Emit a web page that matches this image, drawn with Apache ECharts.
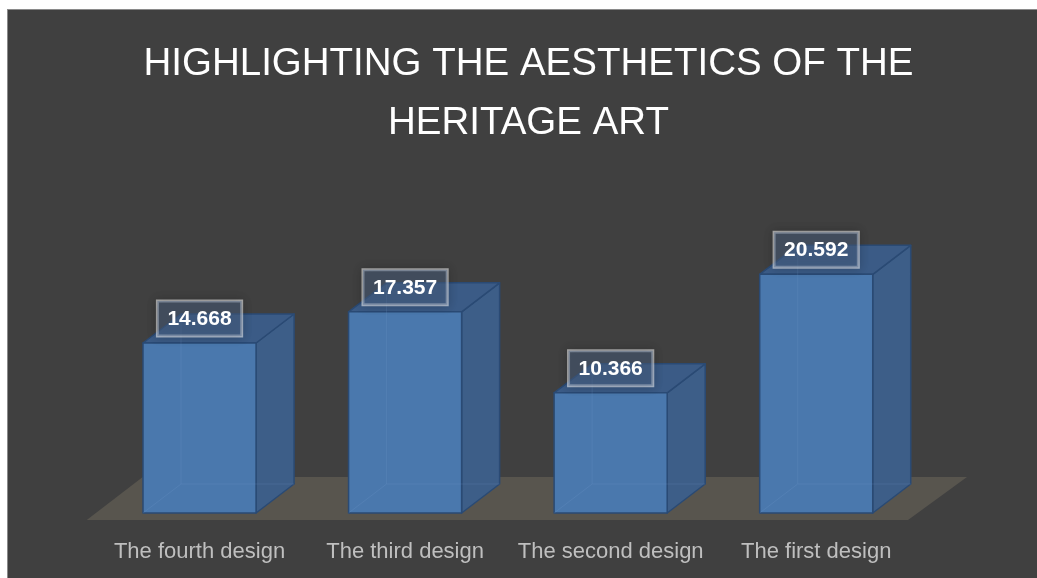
<!DOCTYPE html>
<html>
<head>
<meta charset="utf-8">
<script src="https://cdn.jsdelivr.net/npm/echarts@6/dist/echarts.min.js"></script>
<style>
  html, body { margin: 0; padding: 0; background: #ffffff; width: 1037px; height: 578px; overflow: hidden; }
  #frame { position: absolute; left: 7px; top: 9px; width: 1030px; height: 569px; border-left: 1px solid #8a8a8a; border-top: 1px solid #8a8a8a; background: #404040; }
  #chart { position: absolute; left: 0; top: 0; width: 1029px; height: 568px; }
</style>
</head>
<body>
<div id="frame"><div id="chart"></div></div>
<script>
const titleText = 'HIGHLIGHTING THE AESTHETICS OF THE\nHERITAGE ART';
const categories = ['The fourth design', 'The third design', 'The second design', 'The first design'];
const values = [14.668, 17.357, 10.366, 20.592];

const DX = 38, DY = 29;          // 3D depth offset (px)
const BAR_RATIO = 0.55;

const chart = echarts.init(document.getElementById('chart'), null, { renderer: 'canvas' });

function renderBar(params, api) {
  const idx = api.value(0);
  const val = api.value(1);
  const base = api.coord([idx, 0]);
  const top = api.coord([idx, val]);
  const bw = api.size([1, 0])[0] * BAR_RATIO;
  const x0 = base[0] - bw / 2, x1 = base[0] + bw / 2;
  const yb = base[1], yt = top[1];
  const edge = { stroke: '#2a4a74', lineWidth: 1.5, lineJoin: 'round' };
  return {
    type: 'group',
    children: [
      { type: 'polygon', shape: { points: [[x1, yt], [x1 + DX, yt - DY], [x1 + DX, yb - DY], [x1, yb]] },
        style: Object.assign({ fill: '#3d5e88' }, edge) },
      { type: 'polygon', shape: { points: [[x0, yt], [x0 + DX, yt - DY], [x1 + DX, yt - DY], [x1, yt]] },
        style: Object.assign({ fill: '#3b5b86' }, edge) },
      { type: 'rect', shape: { x: x0, y: yt, width: bw, height: yb - yt },
        style: Object.assign({ fill: '#4a78ad' }, edge) },
      { type: 'polyline', shape: { points: [[x0 + DX, yt - DY + 2], [x0 + DX, yb - DY], [x1 + DX, yb - DY]] },
        style: { stroke: 'rgba(120,160,210,0.18)', lineWidth: 1, fill: null } },
      { type: 'line', shape: { x1: x0, y1: yb, x2: x0 + DX, y2: yb - DY },
        style: { stroke: 'rgba(120,160,210,0.18)', lineWidth: 1 } },
      { type: 'text', z2: 10,
        style: {
          text: String(val), x: base[0], y: yt - 7, align: 'center', verticalAlign: 'bottom',
          font: 'bold 21px "Liberation Sans", Arial, sans-serif', fill: '#ffffff', lineHeight: 24,
          backgroundColor: 'rgba(80,105,140,0.45)', borderColor: 'rgba(255,255,255,0.55)', borderWidth: 1.5,
          padding: [6, 10, 5, 10],
          shadowColor: 'rgba(0,0,0,0.35)', shadowBlur: 10
        } }
    ]
  };
}

function renderFloor(params, api) {
  const left = api.coord([0, 0]);
  const right = api.coord([categories.length - 1, 0]);
  const half = api.size([1, 0])[0] / 2;
  const xl = left[0] - half, xr = right[0] + half, y0 = left[1];
  return {
    type: 'polygon',
    shape: { points: [[xl - 10, y0 + 7], [xr - 11, y0 + 7], [xr + 48, y0 - 36], [xl + 46, y0 - 36]] },
    style: { fill: '#58554e' }
  };
}

chart.setOption({
  backgroundColor: '#404040',
  animation: false,
  title: {
    text: titleText,
    left: 515.5,
    textAlign: 'center',
    top: 20,
    textStyle: { color: '#ffffff', fontSize: 38.5, fontWeight: 'normal', fontFamily: '"Liberation Sans", Arial, sans-serif', lineHeight: 59, align: 'center' }
  },
  grid: { left: 88.75, right: 118, top: 213.25, bottom: 65 },
  xAxis: {
    type: 'category',
    data: categories,
    boundaryGap: true,
    axisLine: { show: false },
    axisTick: { show: false },
    axisLabel: { interval: 0, hideOverlap: false, color: '#bfbfbf', fontSize: 22, lineHeight: 22, margin: 28, fontFamily: '"Liberation Sans", Arial, sans-serif' }
  },
  yAxis: { type: 'value', min: 0, max: 25, show: false, splitLine: { show: false } },
  series: [
    { type: 'custom', z: 1, silent: true, renderItem: renderFloor, data: [[0, 0]] },
    { type: 'custom', z: 2, renderItem: renderBar, data: values.map((v, i) => [i, v]) }
  ]
});
</script>
</body>
</html>
